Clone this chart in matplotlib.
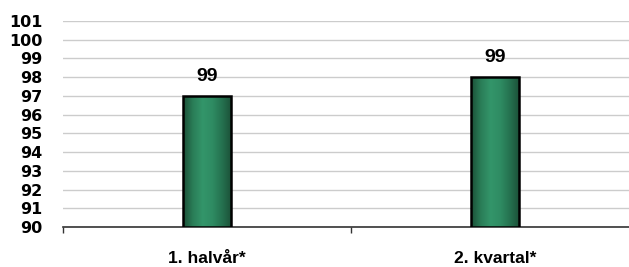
import matplotlib.pyplot as plt
import numpy as np
from matplotlib.colors import LinearSegmentedColormap

categories = ["1. halvår*", "2. kvartal*"]
values = [97, 98]
labels = ["99", "99"]
yticks = list(range(90, 102))

W, H = 629, 267
fig = plt.figure(figsize=(W / 100, H / 100), dpi=100)
# axes run past the right edge of the image, like the original
ax = fig.add_axes([63 / W, 1 - 227 / H, 576 / W, (227 - 21) / H])

x = np.arange(len(categories))
bars = ax.bar(x, [v - 90 for v in values], bottom=90, width=0.17,
              color="#2e8b62", edgecolor="black", linewidth=1.8, zorder=3)

# horizontal gradient inside each bar
cmap = LinearSegmentedColormap.from_list(
    "g", ["#1b4f37", "#2a7d57", "#33956a", "#2f8c63", "#25714f", "#1b4f37"])
grad = np.linspace(0, 1, 256).reshape(1, -1)
for b in bars:
    x0, y0 = b.get_x(), b.get_y()
    im = ax.imshow(grad, cmap=cmap, aspect="auto", zorder=3,
                   extent=[x0, x0 + b.get_width(), y0, y0 + b.get_height()])
    im.set_clip_path(b)
    b.set_facecolor("none")
    b.set_zorder(4)

for xi, v, lab in zip(x, values, labels):
    ax.text(xi, v + 0.8, lab, ha="center", va="baseline",
            fontsize=14, fontweight="bold", family="Liberation Sans")

ax.set_xlim(-0.5, 1.5)
ax.set_ylim(90, 101)
ax.set_yticks(yticks)
ax.set_yticklabels([str(t) for t in yticks], fontsize=11.5, fontweight="bold",
                   family="DejaVu Sans")
ax.yaxis.grid(True, color="#cccccc", linewidth=1, zorder=0)
ax.tick_params(axis="y", length=0, pad=15)

ax.set_xticks([-0.5, 0.5, 1.5])
ax.set_xticklabels([])
ax.set_xticks(x, minor=True)
ax.set_xticklabels(categories, minor=True, fontsize=12.5, fontweight="bold",
                   family="Liberation Sans")
ax.tick_params(axis="x", which="major", length=4, width=1, color="#333333")
ax.tick_params(axis="x", which="minor", length=0, pad=17)

for s in ["top", "right", "left"]:
    ax.spines[s].set_visible(False)
ax.spines["bottom"].set_color("#333333")
ax.spines["bottom"].set_linewidth(1.2)

fig.savefig("out.png", dpi=100)
